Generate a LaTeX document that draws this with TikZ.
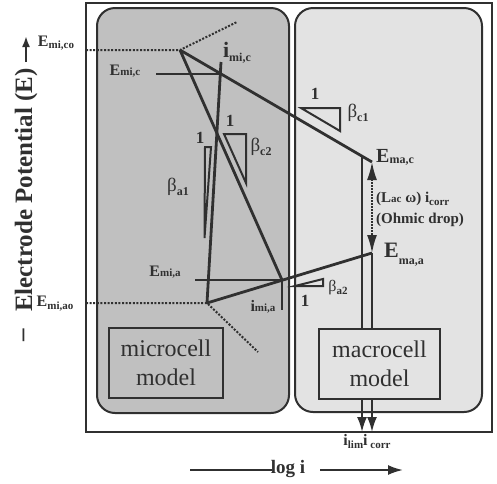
\documentclass[tikz,border=0pt]{standalone}
\usepackage{fontspec}
\setmainfont{Liberation Serif}
\usetikzlibrary{arrows.meta}
\definecolor{ink}{HTML}{303030}
\definecolor{lpanel}{HTML}{C0C0C0}
\definecolor{rpanel}{HTML}{E3E3E3}
\newcommand\fs[1]{\fontsize{#1}{#1}\selectfont}
\newcommand\SL[5]{{\fs{#1}#2\raisebox{-#5pt}{\fs{#3}#4}}}
\tikzset{
  outerbox/.style={draw=ink, line width=2pt},
  panel/.style={draw=ink, line width=2pt, rounded corners=18pt},
  mainline/.style={draw=ink, line width=2.8pt},
  thinline/.style={draw=ink, line width=2pt},
  dotline/.style={draw=ink, line width=2pt, dash pattern=on 2pt off 1.6pt},
  slopetri/.style={draw=ink, line width=2pt, line join=miter},
  modelbox/.style={draw=ink, line width=2pt, align=center, inner sep=0pt,
    font=\fontsize{24}{29}\selectfont, text=ink},
  lbl/.style={text=ink, inner sep=0pt},
  tip/.style={-{Latex[length=15pt,width=10pt]}},
}
\begin{document}
\begin{tikzpicture}[x=1pt,y=-1pt]
\useasboundingbox (0,0) rectangle (497,483);
% frames
\draw[outerbox, fill=white] (86,3) rectangle (492,432);
\draw[panel, fill=lpanel] (97,8) rectangle (289,413);
\draw[panel, fill=rpanel] (295,8) rectangle (482,412);
% model boxes
\node[modelbox, minimum width=114pt, minimum height=70pt] (micbox) at (166,363) {microcell\\model};
\node[modelbox, minimum width=121pt, minimum height=70pt] (macbox) at (379.5,364) {macrocell\\model};
% key points
\coordinate (oL) at (86,0);
\coordinate (oB) at (0,432);
\coordinate (Emico) at (180,50);
\coordinate (Emac) at (372,162);
\coordinate (Emiao) at (207,303);
\coordinate (Emaa) at (372,253);
\coordinate (Atop) at (221,62);
\coordinate (CatDir) at (282,280);
\coordinate (Emic) at (intersection of Emico--Emac and Emiao--Atop);
\coordinate (Emia) at (intersection of Emico--CatDir and Emiao--Emaa);
\coordinate (Vlim) at (intersection of Emico--Emac and {362,0}--{362,400});
\coordinate (EmicL) at (156,0);
\coordinate (EmiaL) at (195,0);
\coordinate (UpEnd) at (237,22);
\coordinate (DnEnd) at (258,352);
% dotted parts
\draw[dotline] (Emico -| oL) -- (Emico) -- (UpEnd);
\draw[dotline] (Emiao -| oL) -- (Emiao) -- (DnEnd);
% polarisation lines
\draw[mainline] (Emico) -- (Emac);
\draw[mainline] (Emiao) -- (Emaa);
\draw[mainline] (Emico) -- (Emia);
\draw[mainline] (Emiao) -- (Atop);
\draw[thinline] (Emic -| EmicL) -- (Emic);
\draw[thinline] (Emia -| EmiaL) -- (Emia);
\draw[thinline] (Emia) -- ++(0,30);
% macrocell verticals
\draw[thinline] (Vlim) -- (Vlim |- macbox.north);
\draw[thinline] (Emaa) -- (Emaa |- macbox.north);
\draw[thinline, tip] (Vlim |- macbox.south) -- (Vlim |- oB);
\draw[thinline, tip] (Emaa |- macbox.south) -- (Emaa |- oB);
\draw[draw=ink, line width=1.8pt, dash pattern=on 1.5pt off 1.5pt,
  {Latex[length=18pt,width=10pt]}-{Latex[length=18pt,width=10pt]}] (Emac) -- (Emaa);
% slope triangles
\draw[slopetri] (301,108) -- (340,108) -- (340,131) -- cycle;
\draw[slopetri] (224,134) -- (246,134) -- (246,183) -- cycle;
\draw[slopetri] (205,147) -- (211,147) -- (204.5,238) -- cycle;
\draw[slopetri] (295,286) -- (323,286) -- (323,279) -- cycle;
% labels
\node[lbl] (lEmico) at (56,43) {\SL{16}{\bfseries E}{11}{\bfseries mi,co}{2}};
\node[lbl] (lEmic) at (125,71) {\SL{16}{\bfseries E}{11}{\bfseries mi,c}{0.5}};
\node[lbl] (limic) at (237,53) {\SL{22}{\bfseries i}{12}{\bfseries mi,c}{4}};
\node[lbl] (lEmia) at (165,272) {\SL{16}{\bfseries E}{11}{\bfseries mi,a}{0.5}};
\node[lbl] (lEmiao) at (55,304) {\SL{16}{\bfseries E}{11}{\bfseries mi,ao}{3}};
\node[lbl] (limia) at (263,307) {\SL{16}{\bfseries i}{11}{\bfseries mi,a}{0.5}};
\node[lbl] (lEmac) at (395,157) {\SL{20}{\bfseries E}{12}{\bfseries ma,c}{1}};
\node[lbl] (lEmaa) at (404,255) {\SL{22}{\bfseries E}{12}{\bfseries ma,a}{7}};
\node[lbl, anchor=west, align=left, font=\bfseries\fontsize{15}{21}\selectfont] (lohm) at (376,209)
  {(L{\fs{11}ac} ω) i\raisebox{-3pt}{\fs{11}corr}\\(Ohmic drop)};
\node[lbl] (lilim) at (367,441) {\SL{16}{\bfseries i}{11}{\bfseries lim}{3}\SL{16}{\bfseries i}{11}{\bfseries\ corr}{3}};
\node[lbl] (lbc1) at (358,113) {\SL{19}{β}{12}{\bfseries c1}{4}};
\node[lbl] (lbc2) at (261,147) {\SL{19}{β}{12}{\bfseries c2}{4}};
\node[lbl] (lba1) at (178,187) {\SL{19}{β}{12}{\bfseries a1}{4}};
\node[lbl] (lba2) at (338,288) {\SL{16}{β}{11}{\bfseries a2}{3}};
\node[lbl, font=\bfseries\fs{17}] (one1) at (315,94) {1};
\node[lbl, font=\bfseries\fs{17}] (one2) at (230,121) {1};
\node[lbl, font=\bfseries\fs{17}] (one3) at (200,138) {1};
\node[lbl, font=\bfseries\fs{17}] (one4) at (305,301) {1};
% axes
\node[lbl, rotate=90, font=\bfseries\fs{25}] (ylab) at (26,190) {Electrode Potential (E)};
\node[lbl, rotate=90, font=\bfseries\fs{25}] (yminus) at (26,335) {–};
\coordinate (yA) at (26,62);
\coordinate (yB) at (26,36);
\draw[draw=ink, line width=2pt, -{Latex[length=11pt,width=8pt]}] (yA) -- (yB);
\node[lbl, font=\bfseries\fs{19}] (xlab) at (288,469) {log i};
\coordinate (xA) at (190,470);
\coordinate (xB) at (272,470);
\coordinate (xC) at (320,470);
\coordinate (xD) at (403,470);
\draw[draw=ink, line width=2pt] (xA) -- (xB);
\draw[draw=ink, line width=2pt, -{Latex[length=15pt,width=10pt]}] (xC) -- (xD);
\end{tikzpicture}
\end{document}
